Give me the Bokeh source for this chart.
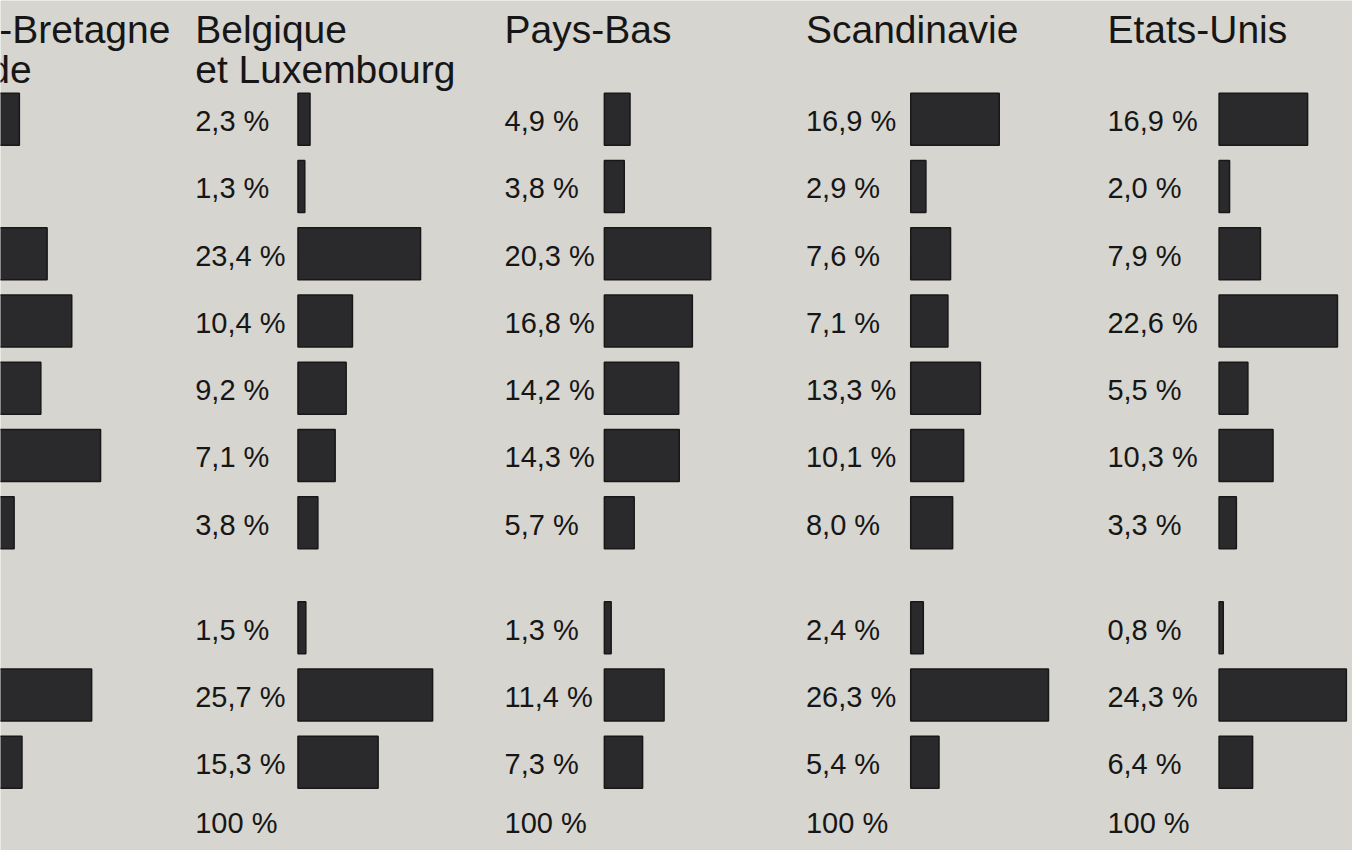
from bokeh.plotting import figure
from bokeh.models import Range1d
from bokeh.core.properties import value
from bokeh.embed import file_html
from bokeh.resources import INLINE

# ---- data ----
regions_line1 = ["Grande-Bretagne", "Belgique", "Pays-Bas", "Scandinavie", "Etats-Unis"]
regions_line2 = ["et Irlande", "et Luxembourg", "", "", ""]

gb = [5.3, 1.4, 10.6, 15.3, 9.4, 20.8, 4.3, 1.0, 19.1, 5.8]
belgique = [2.3, 1.3, 23.4, 10.4, 9.2, 7.1, 3.8, 1.5, 25.7, 15.3]
pays_bas = [4.9, 3.8, 20.3, 16.8, 14.2, 14.3, 5.7, 1.3, 11.4, 7.3]
scandinavie = [16.9, 2.9, 7.6, 7.1, 13.3, 10.1, 8.0, 2.4, 26.3, 5.4]
etats_unis = [16.9, 2.0, 7.9, 22.6, 5.5, 10.3, 3.3, 0.8, 24.3, 6.4]
series = [gb, belgique, pays_bas, scandinavie, etats_unis]
show_labels = [False, True, True, True, True]
total_label = "100 %"

# ---- layout (reference pixel units) ----
W, H = 1352, 850
REF_W, REF_H = 1368, 866
TITLE_X = [-133, 197, 510, 815, 1120]
LABEL_X = [-113, 197, 510, 815, 1120]
BAR_X = [-9, 301, 611, 921, 1233]
SCALE = 5.3          # px per percent
Y0, ROW_H, GAP = 121, 68.5, 38.5
BAR_H = 53
BG = "#d6d5d0"
INK = "#161616"
FONT = value("Liberation Sans")

def fmt(v):
    return ("%.1f" % v).replace(".", ",") + " %"

def row_y(i):
    return Y0 + i * ROW_H + (GAP if i >= 7 else 0)

p = figure(width=W, height=H, output_backend="svg", toolbar_location=None,
           x_range=Range1d(0, REF_W), y_range=Range1d(REF_H, 0),
           min_border=0, background_fill_color=BG, border_fill_color=BG,
           outline_line_color=None)
p.axis.visible = False
p.grid.visible = False

lefts, rights, tops, bottoms = [], [], [], []
tx, ty, tt = [], [], []
for c, vals in enumerate(series):
    for i, v in enumerate(vals):
        y = row_y(i)
        lefts.append(BAR_X[c])
        rights.append(BAR_X[c] + v * SCALE)
        tops.append(y - BAR_H / 2)
        bottoms.append(y + BAR_H / 2)
        if show_labels[c]:
            tx.append(LABEL_X[c]); ty.append(y + 2); tt.append(fmt(v))
    if show_labels[c]:
        tx.append(LABEL_X[c]); ty.append(row_y(9) + 62); tt.append(total_label)

p.quad(left=lefts, right=rights, top=tops, bottom=bottoms,
       fill_color="#2a2a2c", line_color="#181818", line_width=1.5)

p.text(x=tx, y=ty, text=tt, text_font=FONT, text_font_size="29px",
       text_color=INK, text_baseline="middle", text_align="left")

p.text(x=TITLE_X, y=[30] * 5, text=regions_line1, text_font=FONT,
       text_font_size="39px", text_color=INK, text_baseline="middle",
       text_align="left")
p.text(x=TITLE_X, y=[70] * 5, text=regions_line2, text_font=FONT,
       text_font_size="39px", text_color=INK, text_baseline="middle",
       text_align="left")

open("out.html", "w").write(file_html(p, INLINE))
